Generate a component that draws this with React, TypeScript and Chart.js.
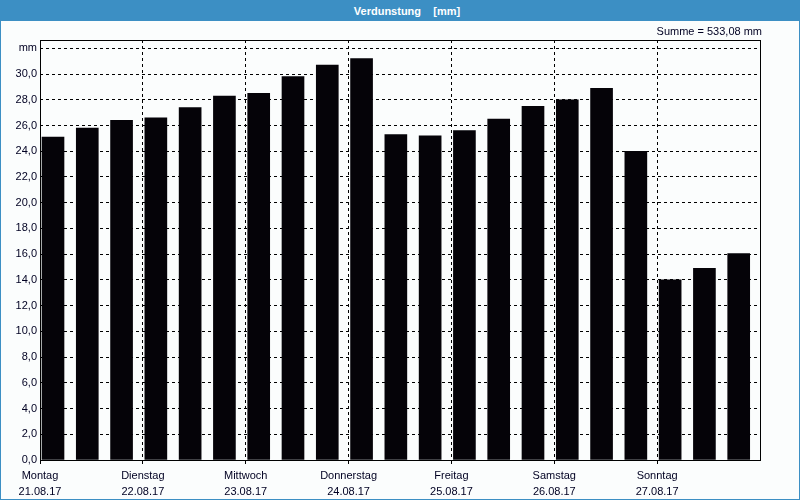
import React, { useEffect, useRef } from "react";
import { Chart, registerables } from "chart.js";

Chart.register(...registerables);

// 21 values, three per day (Mon 21.08.17 .. Sun 27.08.17)
const evaporation: number[] = [
  25.1, 25.8, 26.4,
  26.6, 27.4, 28.3,
  28.5, 29.8, 30.7,
  31.2, 25.3, 25.2,
  25.6, 26.5, 27.5,
  28.0, 28.9, 24.0,
  14.0, 14.9, 16.05,
];
const dayNames: string[] = ["Montag", "Dienstag", "Mittwoch", "Donnerstag", "Freitag", "Samstag", "Sonntag"];
const dayDates: string[] = ["21.08.17", "22.08.17", "23.08.17", "24.08.17", "25.08.17", "26.08.17", "27.08.17"];
const yTickValues: number[] = [0, 2, 4, 6, 8, 10, 12, 14, 16, 18, 20, 22, 24, 26, 28, 30, 32];
const titleText = "Verdunstung    [mm]";
const sumText = "Summe = 533,08 mm";

const FONT = "'Liberation Sans', Arial, sans-serif";
const X_SHIFT = 0.379;

export default function App() {
  const ref = useRef<HTMLCanvasElement | null>(null);

  useEffect(() => {
    if (!ref.current) return;
    const framePlugin = {
      id: "frame",
      afterDatasetsDraw(chart: any) {
        const { ctx, chartArea } = chart;
        ctx.save();
        ctx.setLineDash([]);
        ctx.strokeStyle = "#000";
        ctx.lineWidth = 1;
        ctx.strokeRect(
          Math.round(chartArea.left) + 0.5,
          Math.round(chartArea.top) + 0.5,
          Math.round(chartArea.right - chartArea.left),
          Math.round(chartArea.bottom - chartArea.top)
        );
        ctx.fillStyle = "#000022";
        ctx.font = "11px " + FONT;
        ctx.textAlign = "right";
        ctx.textBaseline = "middle";
        ctx.fillText(sumText, chartArea.right + 2, chartArea.top - 8);
        ctx.restore();
      },
    };

    const chart = new Chart(ref.current, {
      type: "bar",
      data: {
        datasets: [
          {
            data: evaporation.map((v, i) => ({ x: i, y: v })),
            backgroundColor: "#050308",
            borderWidth: 0,
            barThickness: 22,
          },
        ],
      },
      options: {
        animation: false,
        responsive: false,
        maintainAspectRatio: false,
        layout: { padding: { left: 0, top: 19, right: 39, bottom: 0 } },
        plugins: { legend: { display: false }, tooltip: { enabled: false }, title: { display: false } },
        scales: {
          x: {
            type: "linear",
            offset: false,
            min: -X_SHIFT,
            max: 21 - X_SHIFT,
            afterBuildTicks: (scale: any) => {
              scale.ticks = dayNames.map((_, k) => ({ value: 3 * k - X_SHIFT }));
            },
            afterFit: (scale: any) => {
              scale.height = 39;
            },
            ticks: {
              autoSkip: false,
              maxRotation: 0,
              padding: 4,
              color: "#000022",
              font: { family: FONT, size: 11, lineHeight: 1.45 },
              callback: (_v: any, idx: number) => [dayNames[idx], dayDates[idx]],
            },
            grid: {
              offset: false,
              color: "#000",
              lineWidth: 1,
              drawTicks: true,
              tickLength: 4,
              tickColor: "#000",
              tickBorderDash: [],
            },
            border: { display: false, dash: [3, 3] },
          },
          y: {
            min: 0,
            max: 32.65,
            afterBuildTicks: (scale: any) => {
              scale.ticks = yTickValues.map((v) => ({ value: v }));
            },
            afterFit: (scale: any) => {
              scale.width = 39;
            },
            ticks: {
              padding: 3,
              color: "#000022",
              font: { family: FONT, size: 11 },
              callback: (v: any) => (v === 32 ? "mm" : Number(v).toFixed(1).replace(".", ",")),
            },
            grid: { color: "#000", lineWidth: 1, drawTicks: false },
            border: { display: false, dash: [3, 3] },
          },
        },
      },
      plugins: [framePlugin],
    } as any);
    return () => chart.destroy();
  }, []);

  return (
    <div
      style={{
        position: "fixed",
        left: 0,
        top: 0,
        width: 800,
        height: 500,
        boxSizing: "border-box",
        border: "1px solid #3c8fc4",
        background: "#fbfdfd",
        overflow: "hidden",
      }}
    >
      <div
        style={{
          height: 20,
          background: "#3c8fc4",
          color: "#fff",
          fontFamily: FONT,
          fontWeight: "bold",
          fontSize: 11,
          lineHeight: "20px",
          textAlign: "center",
          whiteSpace: "pre",
          paddingLeft: 14,
        }}
      >
        {titleText}
      </div>
      <canvas ref={ref} width={798} height={478} style={{ display: "block", width: 798, height: 478 }} />
    </div>
  );
}
